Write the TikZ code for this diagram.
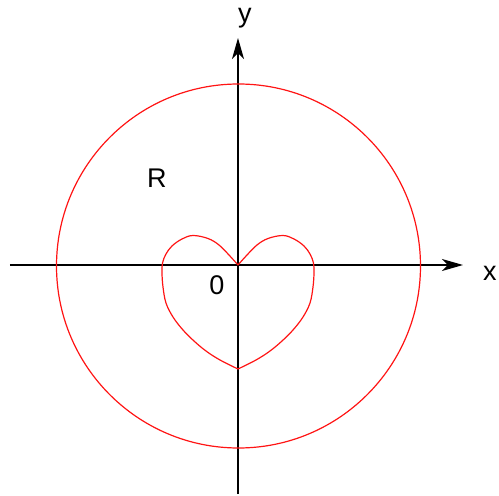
\documentclass[tikz,border=0pt]{standalone}
\usepackage{fontspec}
\setmainfont{Liberation Sans}
\usetikzlibrary{arrows.meta}
\definecolor{curvered}{RGB}{255, 20, 20}

\begin{document}
\begin{tikzpicture}[
        x=1pt, y=1pt,
        axis/.style={line width=1.4pt, -{Stealth[length=21pt, width=12pt, inset=6pt]}},
        curve/.style={draw=curvered, line width=1.2pt},
        lbl/.style={font=\fontsize{27}{27}\selectfont, inner sep=0pt}
    ]
        \useasboundingbox (-238,-231) rectangle (261,265);

        % Axes
        \draw[axis] (0,-229) -- (0,227);
        \draw[axis] (-228,0) -- (225,0);

        % Outer circle
        \draw[curve] (0.5,-1) circle (182);

        % Heart-shaped curve, two mirrored halves
        \draw[curve] plot[smooth, tension=0.6] coordinates {
            (0,0) (9,10) (19,20) (30,26.5) (45,29.5) (56,26) (66,19)
            (72,11) (75.5,2) (76,-8) (75,-22) (72,-38) (65,-52)
            (55,-65) (44,-76) (32,-86) (18,-95) (0,-104)};
        \draw[curve] plot[smooth, tension=0.6] coordinates {
            (0,0) (-9,10) (-19,20) (-30,26.5) (-45,29.5) (-56,26) (-66,19)
            (-72,11) (-75.5,2) (-76,-8) (-75,-22) (-72,-38) (-65,-52)
            (-55,-65) (-44,-76) (-32,-86) (-18,-95) (0,-104)};

        % Labels
        \node[lbl] (ylbl) at (7,247) {y};
        \node[lbl] (xlbl) at (252,-8) {x};
        \node[lbl] (rlbl) at (-81,87) {R};
        \node[lbl] (olbl) at (-21,-20) {0};
    \end{tikzpicture}
\end{document}
